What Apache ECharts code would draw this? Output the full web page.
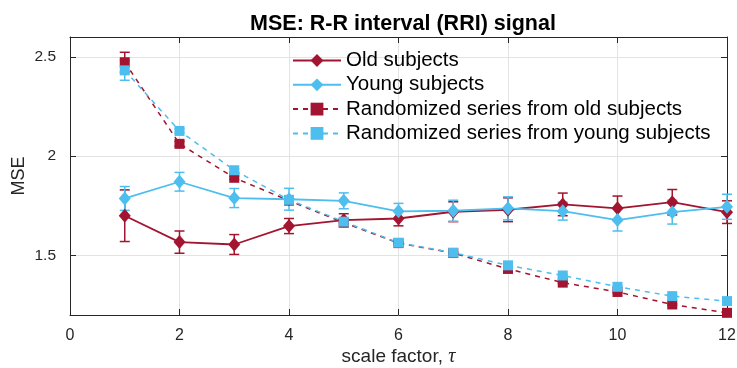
<!DOCTYPE html>
<html>
<head>
<meta charset="utf-8">
<script src="https://cdn.jsdelivr.net/npm/echarts@6/dist/echarts.min.js"></script>
<style>html,body{margin:0;padding:0;background:#fff}#c{width:737px;height:368px}</style>
</head>
<body>
<div id="c"></div>
<script>
var scales = [1,2,3,4,5,6,7,8,9,10,11,12];
var oldMean = [1.700,1.567,1.555,1.648,1.678,1.686,1.720,1.730,1.757,1.737,1.768,1.718];
var oldErr  = [0.130,0.056,0.050,0.038,0.032,0.037,0.050,0.060,0.057,0.062,0.064,0.057];
var youngMean = [1.787,1.871,1.789,1.783,1.775,1.722,1.725,1.737,1.723,1.678,1.718,1.745];
var youngErr  = [0.060,0.047,0.048,0.055,0.040,0.040,0.053,0.058,0.045,0.055,0.060,0.063];
var randOldMean = [2.473,2.062,1.891,1.776,1.665,1.562,1.512,1.432,1.363,1.316,1.253,1.211];
var randOldErr  = [0.050,0.012,0.008,0.006,0.005,0.004,0.004,0.004,0.004,0.004,0.004,0.004];
var randYoungMean = [2.432,2.127,1.929,1.780,1.670,1.564,1.514,1.450,1.399,1.342,1.295,1.270];
var randYoungErr  = [0.050,0.010,0.008,0.006,0.005,0.004,0.004,0.004,0.004,0.004,0.004,0.004];
var yTicks = [1.5, 2, 2.5];
var names = ['Old subjects','Young subjects','Randomized series from old subjects','Randomized series from young subjects'];

var RED = '#A2142F', BLUE = '#4DBEEE';
var FONT = 'Liberation Sans, Arial, Helvetica, sans-serif';

function pts(m){ return scales.map(function(x,i){ return [x, m[i]]; }); }
function errs(m,e){ return scales.map(function(x,i){ return [x, m[i]-e[i], m[i]+e[i]]; }); }

function errSeries(m, e, color, lw){
  return {
    type: 'custom',
    silent: true,
    data: errs(m, e),
    encode: {x: 0, y: [1, 2]},
    renderItem: function(params, api){
      var lo = api.coord([api.value(0), api.value(1)]);
      var hi = api.coord([api.value(0), api.value(2)]);
      var w = 5;
      var st = {stroke: color, lineWidth: lw};
      return {type: 'group', children: [
        {type: 'line', shape: {x1: lo[0], y1: lo[1], x2: hi[0], y2: hi[1]}, style: st},
        {type: 'line', shape: {x1: lo[0]-w, y1: lo[1], x2: lo[0]+w, y2: lo[1]}, style: st},
        {type: 'line', shape: {x1: hi[0]-w, y1: hi[1], x2: hi[0]+w, y2: hi[1]}, style: st}
      ]};
    }
  };
}
function lineSeries(name, m, color, dashed, symbol, size){
  return {
    name: name, type: 'line', data: pts(m),
    symbol: symbol, symbolSize: size, showSymbol: true,
    itemStyle: {color: color},
    lineStyle: {color: color, width: dashed ? 1.5 : 1.8, type: dashed ? [5,5] : 'solid'},
    emphasis: {disabled: true}, animation: false
  };
}
var diamond = 'path://M0,-1L0.8,0L0,1L-0.8,0Z';

var chart = echarts.init(document.getElementById('c'), null, {renderer: 'canvas'});
chart.setOption({
  animation: false,
  backgroundColor: '#fff',
  textStyle: {fontFamily: FONT},
  title: {
    text: 'MSE: R-R interval (RRI) signal',
    left: 398, top: 8, textAlign: 'center',
    textStyle: {fontFamily: FONT, fontSize: 21.5, fontWeight: 'bold', color: '#000'}
  },
  grid: {left: 70, right: 10, top: 37, bottom: 53, containLabel: false, outerBoundsMode: 'none'},
  legend: {
    data: names, orient: 'vertical', left: 292, top: 50, padding: 0,
    itemWidth: 48, itemHeight: 16, itemGap: 3.3,
    textStyle: {fontFamily: FONT, fontSize: 20.5, color: '#000'},
    selectedMode: false
  },
  xAxis: [{
    type: 'value', min: 0, max: 12, interval: 2,
    name: 'scale factor, {t|τ}', nameLocation: 'middle', nameGap: 32, nameMoveOverlap: false,
    nameTextStyle: {fontFamily: FONT, fontSize: 19, color: '#262626',
      rich: {t: {fontFamily: 'Liberation Serif, DejaVu Serif, serif', fontStyle: 'italic', fontSize: 20, color: '#262626'}}},
    axisLine: {show: true, lineStyle: {color: '#262626', width: 1}},
    axisTick: {show: true, inside: true, length: 6, lineStyle: {color: '#262626'}},
    axisLabel: {fontFamily: FONT, fontSize: 16, color: '#262626', margin: 13},
    splitLine: {show: true, lineStyle: {color: '#e3e3e3', width: 1}}
  },{
    type: 'value', position: 'top', min: 0, max: 12, interval: 2,
    axisLine: {show: true, onZero: false, lineStyle: {color: '#262626', width: 1}},
    axisTick: {show: true, inside: true, length: 6, lineStyle: {color: '#262626'}},
    axisLabel: {show: false}, splitLine: {show: false}
  }],
  yAxis: [{
    type: 'value', min: 1.2, max: 2.6,
    name: 'MSE', nameLocation: 'middle', nameGap: 42, nameMoveOverlap: false,
    nameTextStyle: {fontFamily: FONT, fontSize: 18, color: '#262626'},
    axisLine: {show: true, lineStyle: {color: '#262626', width: 1}},
    axisTick: {show: true, inside: true, length: 6, customValues: yTicks, lineStyle: {color: '#262626'}},
    axisLabel: {fontFamily: FONT, fontSize: 15.5, color: '#262626', margin: 14, customValues: yTicks,
      formatter: function(v){ return String(v); }},
    splitLine: {show: true, lineStyle: {color: '#e3e3e3', width: 1}}
  },{
    type: 'value', position: 'right', min: 1.2, max: 2.6,
    axisLine: {show: true, onZero: false, lineStyle: {color: '#262626', width: 1}},
    axisTick: {show: true, inside: true, length: 6, customValues: yTicks, lineStyle: {color: '#262626'}},
    axisLabel: {show: false}, splitLine: {show: false}
  }],
  series: [
    errSeries(oldMean, oldErr, RED, 1.5),
    lineSeries(names[0], oldMean, RED, false, diamond, [12, 14]),
    errSeries(youngMean, youngErr, BLUE, 1.5),
    lineSeries(names[1], youngMean, BLUE, false, diamond, [12, 14]),
    errSeries(randOldMean, randOldErr, RED, 1.5),
    lineSeries(names[2], randOldMean, RED, true, 'rect', 10),
    errSeries(randYoungMean, randYoungErr, BLUE, 1.5),
    lineSeries(names[3], randYoungMean, BLUE, true, 'rect', 10)
  ]
});
</script>
</body>
</html>
